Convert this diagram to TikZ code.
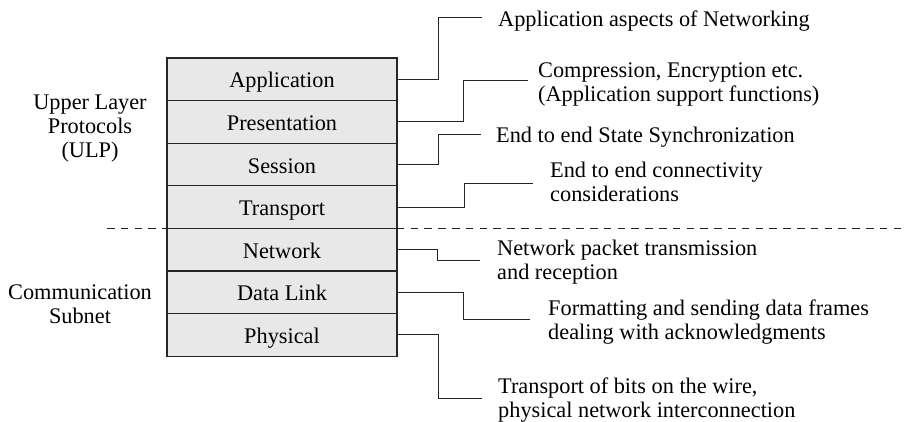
\documentclass[tikz,border=0pt]{standalone}
\usepackage{fontspec}
\setmainfont{Liberation Serif}
\begin{document}
\begin{tikzpicture}[x=1pt,y=-1pt,
  layer/.style={draw=black!85,line width=1.2pt,fill=black!9,minimum width=230pt,
    minimum height=42.6pt,inner sep=0pt,outer sep=0pt,text height=17.2pt,text depth=0pt},
  note/.style={anchor=west,align=left,inner sep=0pt},
  side/.style={align=center,inner sep=0pt},
  wire/.style={draw=black!85,line width=1pt},
  split/.style={draw=black!85,line width=1pt,dash pattern=on 7.5pt off 6.3pt}]
\useasboundingbox (0,0) rectangle (909,422);
\fontsize{22.3}{24}\selectfont

% the seven layers of the stack
\node[layer] (app)  at (282,79.3)  {Application};
\node[layer] (pres) at (282,121.9) {Presentation};
\node[layer] (sess) at (282,164.5) {Session};
\node[layer] (tran) at (282,207.1) {Transport};
\node[layer] (net)  at (282,249.7) {Network};
\node[layer] (dl)   at (282,292.3) {Data Link};
\node[layer] (phy)  at (282,334.9) {Physical};

% boundary between upper layers and the subnet
\coordinate (sl) at (107,228.4);
\coordinate (sr) at (907,228.4);
\draw[split] (sl) -- (sr);

% group labels
\node[side] (ulp) at (90,128.6) {Upper Layer\\Protocols\\(ULP)};
\node[side] (cs)  at (80,304.4) {Communication\\Subnet};

% descriptions
\node[note] (tapp)  at (498,21.5)  {Application aspects of Networking};
\node[note] (tpres) at (538,84)    {Compression, Encryption etc.\\(Application support functions)};
\node[note] (tsess) at (496,137)   {End to end State Synchronization};
\node[note] (ttran) at (550,181.4) {End to end connectivity\\considerations};
\node[note] (tnet)  at (497,262)   {Network packet transmission\\and reception};
\node[note] (tdl)   at (548,322)   {Formatting and sending data frames\\dealing with acknowledgments};
\node[note] (tphy)  at (498,400)   {Transport of bits on the wire,\\physical network interconnection};

% free ends of the leaders, just left of each description
\coordinate (eapp)  at (482,18);
\coordinate (epres) at (528,81);
\coordinate (esess) at (481,135);
\coordinate (etran) at (533,183);
\coordinate (enet)  at (480,260);
\coordinate (edl)   at (530,319);
\coordinate (ephy)  at (482,398);

% leaders from each layer to its description
\draw[wire] (app.east)  -| ([xshift=-44pt]eapp)  -- (eapp);
\draw[wire] (pres.east) -| ([xshift=-65pt]epres) -- (epres);
\draw[wire] (sess.east) -| ([xshift=-43pt]esess) -- (esess);
\draw[wire] (tran.east) -| ([xshift=-69pt]etran) -- (etran);
\draw[wire] (net.east)  -| ([xshift=-43pt]enet)  -- (enet);
\draw[wire] (dl.east)   -| ([xshift=-67pt]edl)   -- (edl);
\draw[wire] (phy.east)  -| ([xshift=-44pt]ephy)  -- (ephy);
\end{tikzpicture}
\end{document}
